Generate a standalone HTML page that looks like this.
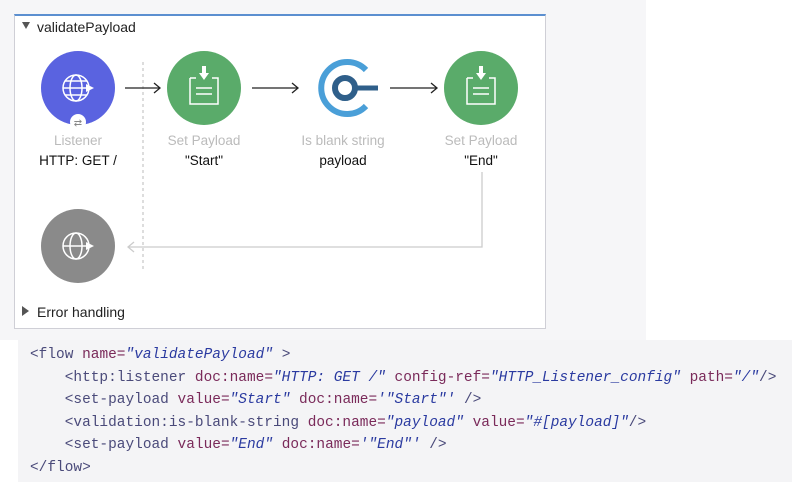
<!DOCTYPE html>
<html><head><style>
body{margin:0;width:792px;height:495px;background:#fff;overflow:hidden;font-family:"Liberation Sans",sans-serif;position:relative}
.code{position:absolute;left:18px;top:340px;width:774px;height:142px;background:#f4f4f6}
.code pre{margin:0;position:absolute;left:12px;top:4px;font-family:"Liberation Mono",monospace;font-size:15px;line-height:22.5px;color:#3a2a6a;transform:scaleX(0.964);transform-origin:0 0}
.t{color:#4a4a7a}.a{color:#7a2a5a}.s{color:#2a3aa0;font-style:italic}
</style></head><body>
<div style="position:absolute;left:0;top:0;width:646px;height:340px;background:#f6f6f8"></div>
<div style="position:absolute;left:14px;top:14px;width:530px;height:312px;background:#fff;border:1px solid #cfcfd6;border-top:2px solid #5b8fd0"></div>
<svg width="792" height="340" style="position:absolute;left:0;top:0" font-family="Liberation Sans, sans-serif">
<polygon points="22,22 30,22 26,29" fill="#555"/>
<text x="37" y="32" font-size="14" fill="#222">validatePayload</text>
<line x1="143" y1="62" x2="143" y2="272" stroke="#bbb" stroke-dasharray="3,3"/>
<circle cx="78" cy="88" r="37" fill="#5a63e0"/>
<circle cx="78" cy="122" r="8" fill="#fff"/>
<text x="78" y="126" font-size="10" text-anchor="middle" fill="#888">⇄</text>
<g fill="none" stroke="#fff" stroke-width="1.5"><circle cx="76" cy="88" r="13"/><ellipse cx="76" cy="88" rx="6" ry="13"/><line x1="63" y1="88" x2="89" y2="88"/><line x1="65" y1="81" x2="87" y2="81"/><line x1="65" y1="95" x2="87" y2="95"/></g>
<polygon points="86,84 94,88 86,92" fill="#fff"/>
<circle cx="204" cy="88" r="37" fill="#5aab6a"/>
<g fill="none" stroke="#fff" stroke-width="1.5"><path d="M190 78 H196 M212 78 H218 V104 H190 V78"/><line x1="196" y1="88" x2="212" y2="88"/><line x1="196" y1="94" x2="212" y2="94"/></g>
<polygon points="199,73 209,73 204,80" fill="#fff"/><rect x="202" y="66" width="4" height="8" fill="#fff"/>
<path d="M366 70 A26 26 0 1 0 366 106" fill="none" stroke="#4a9fd8" stroke-width="6"/>
<circle cx="345" cy="88" r="10" fill="none" stroke="#2f5f8a" stroke-width="6"/>
<line x1="354" y1="88" x2="378" y2="88" stroke="#2f5f8a" stroke-width="5"/>
<circle cx="481" cy="88" r="37" fill="#5aab6a"/>
<g fill="none" stroke="#fff" stroke-width="1.5"><path d="M467 78 H473 M489 78 H495 V104 H467 V78"/><line x1="473" y1="88" x2="489" y2="88"/><line x1="473" y1="94" x2="489" y2="94"/></g>
<polygon points="476,73 486,73 481,80" fill="#fff"/><rect x="479" y="66" width="4" height="8" fill="#fff"/>
<g stroke="#222" stroke-width="1.3" fill="none"><line x1="125" y1="88" x2="160" y2="88"/><path d="M154 83 L160 88 L154 93"/><line x1="252" y1="88" x2="298" y2="88"/><path d="M292 83 L298 88 L292 93"/><line x1="390" y1="88" x2="437" y2="88"/><path d="M431 83 L437 88 L431 93"/></g>
<g font-size="13.5" text-anchor="middle"><text x="78" y="145" fill="#bbb">Listener</text><text x="78" y="165" fill="#111">HTTP: GET /</text>
<text x="204" y="145" fill="#bbb">Set Payload</text><text x="204" y="165" fill="#111">"Start"</text>
<text x="343" y="145" fill="#bbb">Is blank string</text><text x="343" y="165" fill="#111">payload</text>
<text x="481" y="145" fill="#bbb">Set Payload</text><text x="481" y="165" fill="#111">"End"</text></g>
<path d="M482 172 V247 H128" fill="none" stroke="#ccc" stroke-width="1.3"/><path d="M134 242 L128 247 L134 252" fill="none" stroke="#ccc" stroke-width="1.3"/>
<circle cx="78" cy="246" r="37" fill="#8a8a8a"/>
<g fill="none" stroke="#fff" stroke-width="1.5"><circle cx="76" cy="246" r="13"/><ellipse cx="76" cy="246" rx="6" ry="13"/><line x1="63" y1="246" x2="89" y2="246"/></g>
<polygon points="86,242 94,246 86,250" fill="#fff"/>
<polygon points="22,306 29,311 22,316" fill="#555"/>
<text x="37" y="317" font-size="14" fill="#222">Error handling</text>
</svg>
<div class="code"><pre><span class="t">&lt;flow</span> <span class="a">name=</span><span class="s">"validatePayload"</span> <span class="t">&gt;</span>
    <span class="t">&lt;http:listener</span> <span class="a">doc:name=</span><span class="s">"HTTP: GET /"</span> <span class="a">config-ref=</span><span class="s">"HTTP_Listener_config"</span> <span class="a">path=</span><span class="s">"/"</span><span class="t">/&gt;</span>
    <span class="t">&lt;set-payload</span> <span class="a">value=</span><span class="s">"Start"</span> <span class="a">doc:name=</span><span class="s">'"Start"'</span> <span class="t">/&gt;</span>
    <span class="t">&lt;validation:is-blank-string</span> <span class="a">doc:name=</span><span class="s">"payload"</span> <span class="a">value=</span><span class="s">"#[payload]"</span><span class="t">/&gt;</span>
    <span class="t">&lt;set-payload</span> <span class="a">value=</span><span class="s">"End"</span> <span class="a">doc:name=</span><span class="s">'"End"'</span> <span class="t">/&gt;</span>
<span class="t">&lt;/flow&gt;</span></pre></div>
</body></html>
